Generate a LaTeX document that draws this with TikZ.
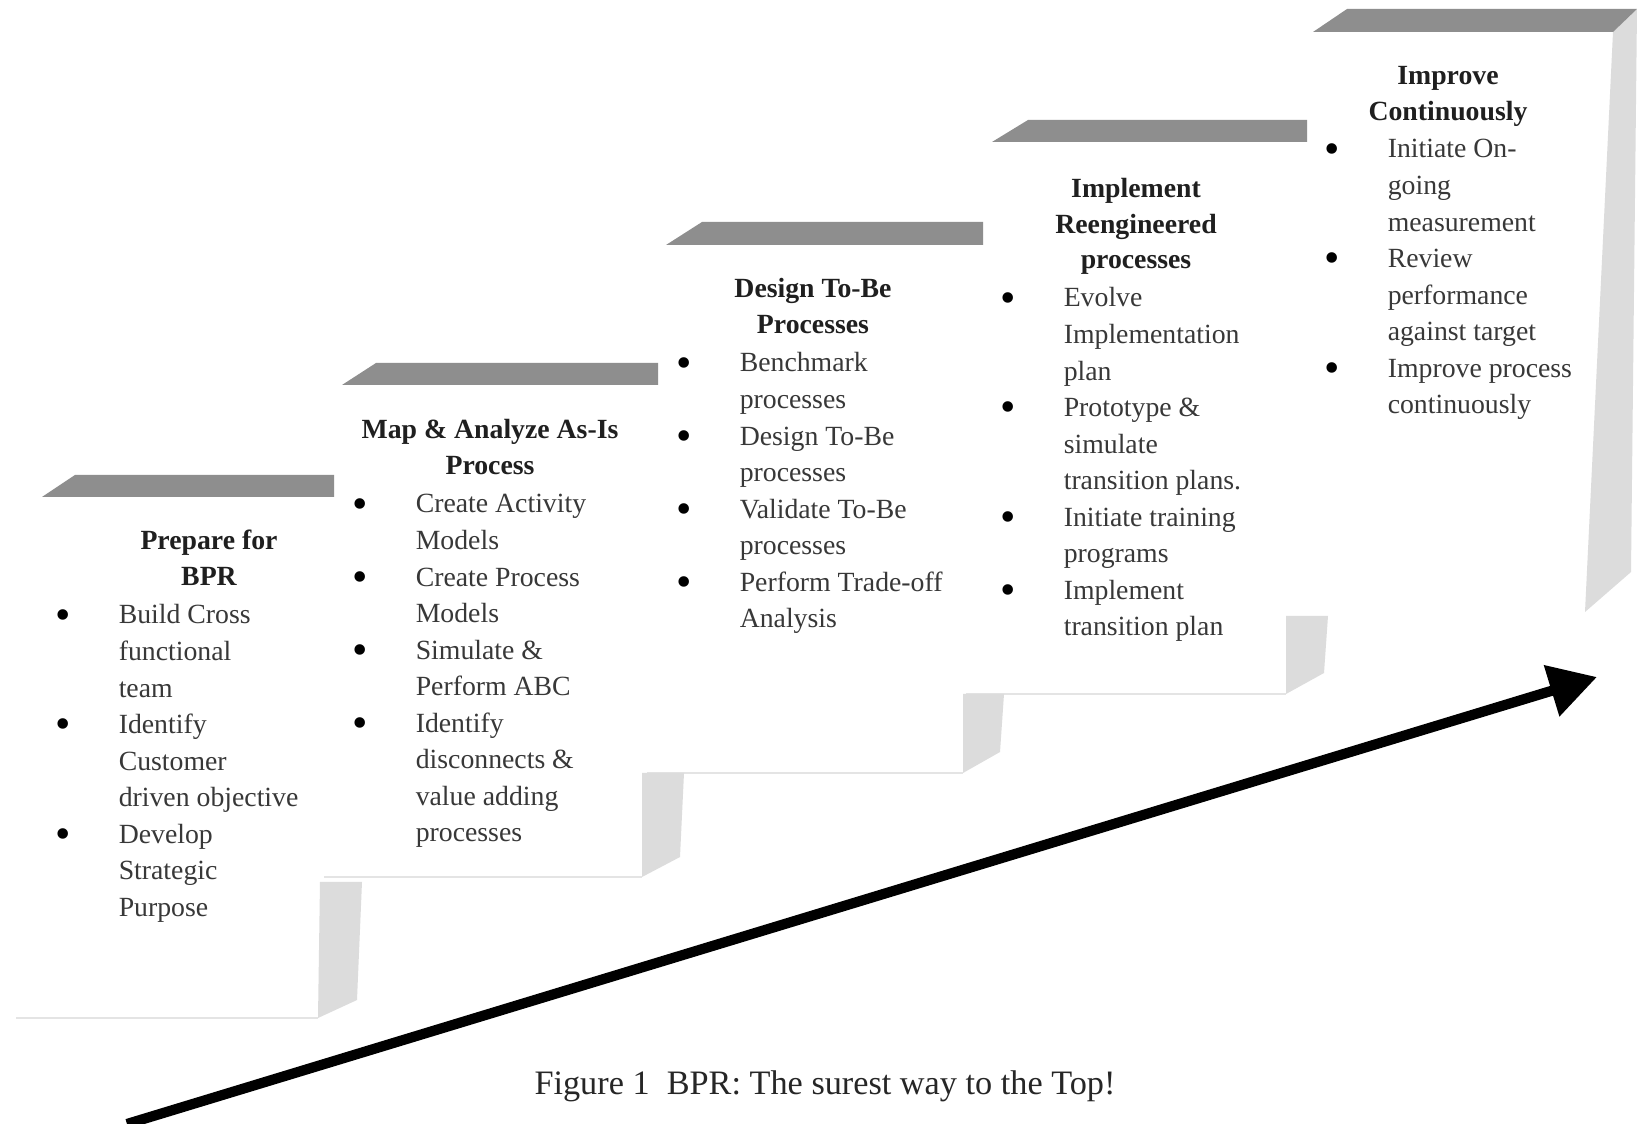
\documentclass[tikz,border=0pt]{standalone}
\usepackage{fontspec}
\setmainfont{Liberation Serif}
\usetikzlibrary{arrows.meta}
\definecolor{bandgray}{HTML}{8E8E8E}
\definecolor{sidegray}{HTML}{DCDCDC}
\definecolor{edgegray}{HTML}{E4E4E4}
\newcommand{\bigdot}{\raisebox{-3pt}{\fontsize{25}{25}\selectfont\textcolor{black}{\textbullet}}}
\begin{document}
\begin{tikzpicture}[x=0.02cm,y=-0.02cm,
  band/.style={fill=bandgray},
  sideface/.style={fill=sidegray},
  frontface/.style={fill=white},
  bottomedge/.style={draw=edgegray, line width=1.6pt},
  boxtitle/.style={font=\bfseries\fontsize{15.8}{20.2}\selectfont, text=black!88, inner sep=0pt, anchor=base},
  itemlist/.style={font=\fontsize{15.8}{20.8}\selectfont, text=black!78, inner sep=0pt, anchor=base west},
  captiontext/.style={font=\fontsize{19.5}{23}\selectfont, text=black!85, inner sep=0pt},
  bigarrow/.style={-{Triangle[length=0.95cm,width=1.02cm]}, line width=5.8pt, black}]
\fill[white] (0,0) rectangle (1637,1124);
\useasboundingbox (0,0) rectangle (1637,1124);
% front faces
\path[frontface] (16,497) -- (318,497) -- (318,1018) -- (16,1018) -- cycle;
\path[frontface] (324,385) -- (642,385) -- (642,877) -- (324,877) -- cycle;
\path[frontface] (647,245) -- (963,245) -- (963,773) -- (647,773) -- cycle;
\path[frontface] (966,142) -- (1286,142) -- (1286,694) -- (966,694) -- cycle;
\path[frontface] (1310,32) -- (1613,32) -- (1585,612) -- (1310,612) -- cycle;
\draw[bottomedge] (16,1018) -- (318,1018);
\draw[bottomedge] (324,877) -- (642,877);
\draw[bottomedge] (647,773) -- (963,773);
\draw[bottomedge] (966,694) -- (1286,694);
% side faces
\fill[sideface] (320,882) -- (362,882) -- (357,1000) -- (318,1018) -- cycle;
\fill[sideface] (642,773) -- (684,773) -- (680,857) -- (642,877) -- cycle;
\fill[sideface] (963,694) -- (1004,694) -- (1000,752) -- (963,773) -- cycle;
\fill[sideface] (1286,616) -- (1328,616) -- (1324,673) -- (1286,694) -- cycle;
\fill[sideface] (1613,32) -- (1637,9) -- (1631,572) -- (1585,612) -- cycle;
% top bands
\fill[band] (42,497) -- (75,475) -- (334,475) -- (334,497) -- cycle;
\fill[band] (342,385) -- (376,363) -- (658,363) -- (658,385) -- cycle;
\fill[band] (666,245) -- (702,222) -- (983,222) -- (983,245) -- cycle;
\fill[band] (992,142) -- (1028,120) -- (1307,120) -- (1307,142) -- cycle;
\fill[band] (1313,32) -- (1347,9) -- (1637,9) -- (1613,32) -- cycle;
% texts
\node[boxtitle] (t1) at (209,550) {\begin{tabular}[t]{@{}c@{}}Prepare for\\BPR\end{tabular}};
\node[itemlist] (l1) at (55,624) {\begin{tabular}[t]{@{}p{36.1pt}@{}l@{}}\bigdot & Build Cross\\ & functional\\ & team\\ \bigdot & Identify\\ & Customer\\ & driven objective\\ \bigdot & Develop\\ & Strategic\\ & Purpose\end{tabular}};
\node[boxtitle] (t2) at (490,439) {\begin{tabular}[t]{@{}c@{}}Map \& Analyze As-Is\\Process\end{tabular}};
\node[itemlist] (l2) at (352,513) {\begin{tabular}[t]{@{}p{36.1pt}@{}l@{}}\bigdot & Create Activity\\ & Models\\ \bigdot & Create Process\\ & Models\\ \bigdot & Simulate \&\\ & Perform ABC\\ \bigdot & Identify\\ & disconnects \&\\ & value adding\\ & processes\end{tabular}};
\node[boxtitle] (t3) at (813,298) {\begin{tabular}[t]{@{}c@{}}Design To-Be\\Processes\end{tabular}};
\node[itemlist] (l3) at (676,372) {\begin{tabular}[t]{@{}p{36.1pt}@{}l@{}}\bigdot & Benchmark\\ & processes\\ \bigdot & Design To-Be\\ & processes\\ \bigdot & Validate To-Be\\ & processes\\ \bigdot & Perform Trade-off\\ & Analysis\end{tabular}};
\node[boxtitle] (t4) at (1136,198) {\begin{tabular}[t]{@{}c@{}}Implement\\Reengineered\\processes\end{tabular}};
\node[itemlist] (l4) at (1000,307) {\begin{tabular}[t]{@{}p{36.1pt}@{}l@{}}\bigdot & Evolve\\ & Implementation\\ & plan\\ \bigdot & Prototype \&\\ & simulate\\ & transition plans.\\ \bigdot & Initiate training\\ & programs\\ \bigdot & Implement\\ & transition plan\end{tabular}};
\node[boxtitle] (t5) at (1448,85) {\begin{tabular}[t]{@{}c@{}}Improve\\Continuously\end{tabular}};
\node[itemlist] (l5) at (1324,158) {\begin{tabular}[t]{@{}p{36.1pt}@{}l@{}}\bigdot & Initiate On-\\ & going\\ & measurement\\ \bigdot & Review\\ & performance\\ & against target\\ \bigdot & Improve process\\ & continuously\end{tabular}};
% arrow
\coordinate (arrowstart) at (127,1124);
\coordinate (arrowtip) at (1597,677);
\draw[bigarrow] (arrowstart) -- (arrowtip);
% caption
\node[captiontext] (cap) at (825,1086) {Figure 1\ \ BPR: The surest way to the Top!};
\end{tikzpicture}
\end{document}
